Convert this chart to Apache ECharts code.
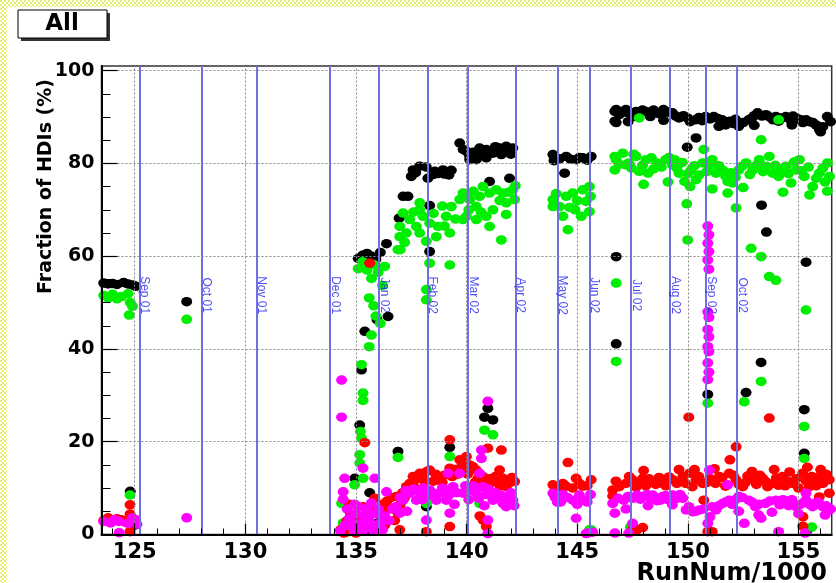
<!DOCTYPE html>
<html>
<head>
<meta charset="utf-8">
<script src="https://cdn.jsdelivr.net/npm/echarts@6/dist/echarts.min.js"></script>
<style>
html, body { margin: 0; padding: 0; background: #fff; }
#main { width: 836px; height: 583px; }
</style>
</head>
<body>
<div id="main"></div>
<script>
// tick values
const xMajor = [125, 130, 135, 140, 145, 150, 155];
const xMinor = [124, 126, 127, 128, 129, 131, 132, 133, 134, 136, 137, 138, 139, 141, 142, 143, 144, 146, 147, 148, 149, 151, 152, 153, 154, 156];
const yMajor = [0, 20, 40, 60, 80, 100];
const yMinor = [5, 10, 15, 25, 30, 35, 45, 50, 55, 65, 70, 75, 85, 90, 95];

// month markers (run number / 1000)
const monthNames = ['Sep 01', 'Oct 01', 'Nov 01', 'Dec 01', 'Jan 02', 'Feb 02', 'Mar 02', 'Apr 02', 'May 02', 'Jun 02', 'Jul 02', 'Aug 02', 'Sep 02', 'Oct 02'];
const monthRuns = [125.21, 128.02, 130.51, 133.82, 136.04, 138.23, 140.06, 142.21, 144.12, 145.55, 147.44, 149.2, 150.82, 152.22];

// [run/1000, fraction %]
const blackPts = [
  [123.6,54.2],[123.8,54.0],[124.0,54.1],[124.2,53.9],[124.5,54.3],[124.7,54.0],[124.9,53.8],[125.05,53.5],[124.8,9.3],[124.3,3.0],[125.0,2.0],[127.35,50.2],
  [135.1,59.5],[135.3,60.2],[135.5,60.6],[135.7,60.0],[135.9,59.3],[136.1,60.8],[136.38,62.7],[135.4,43.8],[135.95,46.3],[136.45,47.0],[135.25,35.5],[135.17,23.6],[134.95,12.1],[135.62,9.0],[135.0,2.0],[135.5,1.0],[136.0,2.5],
  [136.95,68.2],[137.13,72.9],[137.35,72.9],[137.5,77.2],[137.58,78.6],[137.7,78.0],[137.88,79.4],[138.18,79.2],[138.56,78.3],[138.7,77.8],[138.93,78.6],[139.0,77.7],[139.2,77.5],[139.31,78.5],[138.25,76.8],[138.48,77.6],[138.33,70.9],[138.33,61.0],[136.9,17.9],[139.24,18.8],[138.18,6.0],
  [139.69,84.4],[139.84,83.0],[140.0,82.6],[140.14,81.5],[140.3,82.4],[140.59,83.3],[140.7,81.9],[140.89,83.0],[141.19,82.2],[141.3,83.6],[141.49,83.3],[141.65,82.5],[141.79,83.7],[142.0,82.0],[142.09,83.3],[140.89,81.2],[140.14,80.8],[141.57,81.9],[140.44,80.8],[141.04,76.1],[141.94,76.8],[140.96,27.2],[140.81,25.3],[141.19,24.7],
  [143.9,81.9],[143.95,80.6],[144.2,81.0],[144.5,81.5],[144.7,80.9],[144.95,80.8],[145.1,81.3],[145.25,81.2],[145.45,80.7],[145.63,81.5],[144.43,77.9],
  [146.76,91.6],[146.76,88.8],[146.7,91.2],[146.7,89.1],[146.9,90.5],[147.05,91.0],[147.2,91.6],[147.3,89.0],[147.35,90.8],[147.5,90.1],[147.66,91.2],[147.8,90.6],[147.95,91.5],[148.11,91.2],[148.3,90.1],[148.45,91.5],[148.57,90.9],[148.75,90.6],[148.9,91.6],[148.9,89.3],[149.0,91.2],[149.15,91.0],[149.3,90.9],[149.45,90.2],[149.6,89.8],[149.8,90.3],[149.98,89.8],[150.1,89.0],[150.34,89.4],[150.5,89.9],[150.65,89.2],[150.8,90.1],[151.0,89.6],[151.17,90.1],[151.35,89.7],[151.4,88.0],[151.55,89.4],[151.7,88.3],[151.9,89.1],[152.05,88.6],[152.15,89.5],[152.3,88.0],[152.5,88.8],[152.75,89.4],[152.9,89.8],[153.0,90.3],[153.0,88.2],[153.15,90.9],[153.35,90.2],[153.53,90.5],[153.7,90.0],[153.85,89.4],[153.98,90.1],[154.1,89.1],[154.25,89.8],[154.43,90.1],[154.6,89.6],[154.7,88.3],[154.75,90.2],[154.9,89.8],[155.1,89.4],[155.2,88.8],[155.34,89.4],[155.5,89.0],[155.65,88.8],[155.79,88.3],[155.94,87.3],[156.0,86.8],[156.1,87.9],[156.3,90.1],[156.45,89.0],
  [150.37,85.5],[149.97,83.5],[153.33,71.0],[153.55,65.2],[146.76,59.9],[155.34,58.7],[146.76,41.1],[153.31,37.1],[150.9,30.2],[152.63,30.6],[155.26,26.9],[155.26,17.5],[150.95,0.8],[155.4,1.0]
];

const greenPts = [
  [123.6,51.5],[123.8,51.0],[124.0,51.8],[124.2,50.8],[124.4,51.3],[124.7,51.9],[124.8,50.0],[124.9,49.2],[124.75,47.3],[124.79,8.5],[127.35,46.4],
  [135.1,57.3],[135.3,58.8],[135.5,57.0],[135.7,55.2],[135.8,58.2],[136.0,56.5],[136.2,53.7],[136.3,57.8],[135.6,51.0],[135.8,49.3],[135.9,47.1],[136.1,45.5],[135.7,43.0],[135.6,40.5],[135.25,36.6],[135.32,30.5],[135.32,28.9],[135.2,22.2],[135.25,20.8],[135.17,17.2],[135.17,15.4],[135.32,12.1],[134.94,10.7],[134.35,6.7],[134.42,2.5],[134.8,4.0],[135.3,2.0],[134.6,0.5],
  [137.0,61.4],[137.88,71.5],[137.13,69.3],[137.43,67.9],[136.98,66.4],[136.98,64.2],[136.9,61.4],[137.2,63.0],[137.6,69.5],[137.73,66.4],[138.03,68.6],[138.33,67.1],[138.5,69.2],[138.71,66.4],[138.9,70.8],[139.0,66.5],[139.08,68.6],[139.31,70.7],[139.5,68.0],[139.24,65.0],[138.63,64.2],[137.88,65.0],[138.18,63.2],[137.28,65.0],[137.88,70.0],[139.69,72.2],[139.84,67.9],[138.33,58.5],[139.24,58.1],[138.18,52.8],[138.18,50.6],[136.9,16.6],[139.24,16.8],[138.18,6.7],
  [139.84,73.6],[140.1,70.0],[140.14,72.2],[140.3,74.0],[140.44,70.7],[140.65,69.5],[140.74,75.0],[141.04,73.6],[141.34,74.3],[141.5,72.0],[141.64,73.6],[141.9,73.8],[142.09,74.3],[142.17,72.2],[142.2,75.2],[140.44,67.9],[140.89,68.6],[141.19,70.0],[141.79,71.5],[139.99,68.6],[141.04,66.4],[141.57,63.5],[140.59,72.9],[141.79,69.0],[140.81,22.5],[141.19,21.5],[140.59,6.7],
  [143.9,72.2],[144.05,73.5],[144.2,70.7],[144.5,72.9],[144.65,70.5],[144.8,73.6],[144.9,70.0],[145.0,72.0],[145.25,74.3],[145.4,71.8],[145.55,75.0],[145.6,72.9],[144.35,68.6],[144.58,65.7],[145.18,68.6],[145.55,69.6],[143.9,70.7],[145.55,1.0],[145.63,1.0],
  [146.76,80.8],[146.7,81.5],[146.7,78.6],[146.9,79.8],[147.06,82.2],[147.2,79.7],[147.33,80.1],[147.45,79.0],[147.55,82.0],[147.66,81.5],[147.8,78.3],[147.95,79.6],[148.0,75.5],[148.11,80.8],[148.2,77.9],[148.35,81.2],[148.45,78.8],[148.6,80.1],[148.8,79.2],[149.0,80.8],[149.1,76.0],[149.15,81.3],[149.3,79.7],[149.4,80.8],[149.5,79.0],[149.6,77.9],[149.75,80.2],[149.85,76.1],[150.0,77.8],[150.1,75.0],[150.15,78.6],[150.3,79.5],[150.37,76.5],[150.5,77.5],[150.67,80.1],[150.85,78.2],[150.97,79.4],[151.1,80.8],[151.1,74.5],[151.27,77.9],[151.4,79.5],[151.57,78.6],[151.7,77.3],[151.8,76.1],[151.95,78.0],[152.02,75.8],[152.15,77.0],[152.3,78.6],[152.45,79.4],[152.5,74.8],[152.63,80.1],[152.8,77.6],[152.93,78.6],[153.1,79.6],[153.23,80.8],[153.4,78.2],[153.53,79.4],[153.68,81.5],[153.83,77.9],[153.95,79.6],[154.1,77.2],[154.25,78.5],[154.3,73.8],[154.43,79.4],[154.55,77.8],[154.66,75.8],[154.8,80.3],[154.9,78.6],[155.04,80.8],[155.15,78.4],[155.26,77.2],[155.45,79.2],[155.5,73.2],[155.64,75.0],[155.8,76.8],[155.94,77.9],[156.1,79.0],[156.2,76.0],[156.3,74.0],[156.31,80.1],[156.4,77.2],
  [150.72,83.0],[147.8,89.8],[154.1,89.4],[153.31,85.1],[149.95,71.3],[152.18,70.4],[151.8,73.6],[152.86,61.7],[153.31,59.9],[153.68,55.6],[153.98,54.8],[149.99,63.5],[146.76,54.2],[155.34,48.4],[146.76,37.3],[153.31,33.0],[150.9,28.3],[152.55,28.6],[155.26,23.3],[155.26,16.4],[147.4,1.6],[155.6,1.6]
];

const redPts = [
  [123.6,3.0],[123.8,3.6],[124.0,2.8],[124.2,3.4],[124.4,3.2],[124.6,2.6],[124.79,6.4],[124.79,4.4],[124.79,0.6],[125.0,3.0],
  [135.62,58.5],[135.4,19.8],[134.3,1.0],[134.45,0.3],[134.6,3.0],[134.7,6.5],[134.75,4.5],[134.9,1.5],[135.1,4.0],[135.25,1.0],[135.32,6.0],[135.5,2.5],[135.7,5.0],[135.85,7.8],[136.07,4.9],[136.2,6.5],[136.3,2.0],[136.4,7.2],[136.5,5.5],[136.6,8.0],[136.75,3.0],[135.0,0.3],[135.9,0.8],
  [136.83,8.2],[136.9,4.6],[136.98,1.0],[137.0,6.5],[137.1,9.0],[137.2,8.0],[137.28,10.3],[137.43,11.0],[137.58,12.5],[137.6,10.5],[137.73,12.0],[137.88,13.2],[138.03,12.3],[138.1,11.5],[138.2,13.6],[138.33,13.9],[138.5,11.5],[138.6,13.0],[138.78,12.5],[138.9,11.2],[139.0,12.8],[139.24,14.3],[139.35,12.5],[139.5,14.0],[139.6,13.0],[139.69,16.1],[139.8,15.0],[139.84,13.5],[139.99,16.8],[140.05,13.0],[140.29,14.6],[139.24,20.4],[138.18,0.6],[139.24,1.7],
  [140.96,18.6],[141.57,18.2],[141.49,13.9],[141.64,12.1],[140.14,15.0],[140.44,13.9],[140.5,12.0],[140.74,12.5],[140.8,11.0],[141.04,12.0],[141.19,11.3],[141.3,12.5],[141.5,10.5],[141.75,11.8],[141.79,10.3],[141.9,11.0],[142.05,12.3],[142.17,11.4],[140.37,11.2],[140.6,4.0],[140.74,3.1],[140.89,1.7],
  [143.9,10.7],[144.05,10.0],[144.2,9.6],[144.35,11.0],[144.5,10.4],[144.58,15.5],[144.8,10.0],[144.95,12.1],[145.1,11.0],[145.25,10.4],[145.45,10.5],[145.63,11.8],
  [146.6,9.6],[146.6,8.3],[146.75,11.5],[146.9,10.3],[147.2,11.0],[147.35,12.5],[147.5,11.8],[147.66,10.2],[147.8,11.2],[147.96,12.1],[148.0,13.8],[148.1,10.5],[148.25,12.0],[148.41,11.4],[148.55,10.8],[148.7,12.3],[148.86,11.0],[149.0,10.5],[149.15,12.4],[149.32,11.8],[149.5,11.0],[149.6,14.0],[149.77,12.5],[149.9,11.0],[150.07,13.2],[150.2,10.3],[150.3,14.0],[150.37,11.8],[150.5,12.5],[150.67,11.0],[150.85,11.2],[151.0,12.0],[151.2,14.2],[151.25,11.0],[151.42,12.5],[151.55,12.3],[151.7,10.4],[151.87,13.2],[152.05,12.8],[152.18,11.8],[152.3,10.8],[152.48,10.3],[152.6,11.2],[152.7,12.6],[152.9,13.6],[152.93,11.8],[153.1,10.8],[153.25,12.8],[153.38,12.1],[153.5,11.5],[153.6,10.3],[153.83,11.0],[153.9,14.0],[154.0,12.2],[154.1,10.6],[154.28,12.5],[154.4,10.5],[154.5,11.5],[154.6,13.5],[154.73,11.0],[154.9,12.0],[155.0,10.0],[155.19,13.2],[155.35,11.5],[155.4,14.5],[155.49,10.3],[155.6,12.5],[155.7,11.8],[155.8,10.5],[155.94,12.5],[155.94,8.1],[156.0,14.0],[156.1,11.0],[156.25,13.0],[156.39,11.8],[156.39,8.9],
  [150.04,25.3],[153.68,25.1],[152.18,18.9],[151.9,16.1],[150.72,7.4],[151.1,0.6],[150.9,0.6],[147.5,1.0],[147.7,1.0],[147.96,1.5],[155.2,3.8],[155.2,1.8]
];

const magentaPts = [
  [123.6,2.8],[123.9,2.5],[124.1,3.2],[124.3,2.8],[124.3,0.4],[124.7,2.4],[124.9,3.6],[125.05,3.2],[125.1,2.2],[127.35,3.6],
  [134.35,33.3],[134.35,25.3],[135.32,14.3],[134.49,12.1],[135.85,12.1],[134.42,9.2],[134.42,7.6],[136.38,9.2],[134.3,0.8],[134.5,2.0],[134.7,3.5],[134.8,2.5],[134.9,1.0],[134.95,6.5],[135.0,4.5],[135.05,1.5],[135.2,2.5],[135.3,0.8],[135.4,4.0],[135.45,5.5],[135.5,1.5],[135.6,3.0],[135.65,4.5],[135.75,2.0],[135.8,0.7],[135.9,4.5],[136.0,5.5],[136.1,2.5],[136.2,1.0],[136.3,4.0],[136.5,3.0],[136.65,5.5],[134.6,5.5],[135.1,6.0],[135.7,6.8],
  [136.8,6.0],[136.98,4.6],[137.0,8.0],[137.13,7.4],[137.25,9.5],[137.3,5.0],[137.43,8.9],[137.6,9.8],[137.73,7.4],[137.88,8.9],[138.0,7.5],[138.03,10.0],[138.2,8.2],[138.33,9.6],[138.45,9.0],[138.63,7.4],[138.78,8.9],[138.9,10.0],[139.0,9.8],[139.08,7.4],[139.16,13.2],[139.2,8.5],[139.39,10.3],[139.45,6.5],[139.55,9.0],[139.69,13.2],[139.84,8.9],[139.95,10.5],[138.18,3.1],[139.24,4.6],
  [140.96,28.7],[140.67,18.2],[140.67,16.4],[140.1,7.5],[140.2,9.5],[140.3,10.5],[140.44,8.9],[140.55,7.8],[140.59,13.2],[140.74,10.3],[140.8,6.2],[140.89,8.6],[141.0,9.8],[141.19,7.4],[141.3,9.0],[141.4,8.0],[141.55,8.5],[141.64,6.7],[141.79,6.0],[141.9,7.8],[142.0,9.0],[142.09,7.4],[142.15,6.2],[140.96,3.1],[140.96,0.2],
  [143.9,8.9],[144.0,8.0],[144.1,7.0],[144.25,7.0],[144.35,8.6],[144.55,8.0],[144.8,7.4],[145.0,6.5],[145.1,8.5],[145.25,7.4],[145.45,7.0],[145.6,8.6],[144.95,3.5],[145.4,0.2],[145.7,0.5],
  [146.6,6.7],[146.7,4.6],[146.85,7.8],[147.1,7.4],[147.2,5.5],[147.3,8.2],[147.5,7.8],[147.7,8.5],[147.85,7.6],[147.96,8.2],[148.15,8.6],[148.2,6.2],[148.3,7.8],[148.41,8.5],[148.6,7.3],[148.75,7.4],[148.86,8.2],[149.0,8.4],[149.1,7.5],[149.3,6.4],[149.32,8.5],[149.5,7.8],[149.65,8.6],[149.77,7.8],[149.92,5.3],[150.05,6.0],[150.22,4.9],[150.35,5.0],[150.52,5.3],[150.7,5.5],[151.0,3.8],[151.1,6.0],[151.27,5.3],[151.4,6.2],[151.57,6.7],[151.7,7.0],[151.87,7.4],[152.0,6.5],[152.15,7.5],[152.3,8.2],[152.3,5.0],[152.45,8.0],[152.75,7.4],[152.9,7.0],[153.05,6.0],[153.2,6.5],[153.5,6.7],[153.7,7.2],[153.8,4.8],[153.98,7.4],[154.15,6.4],[154.3,7.5],[154.43,6.7],[154.55,6.2],[154.7,7.5],[154.9,6.0],[155.0,4.5],[155.05,6.4],[155.2,6.8],[155.34,7.4],[155.5,6.5],[155.64,6.0],[155.75,6.8],[155.9,7.0],[156.09,6.0],[156.2,4.2],[156.25,6.2],[156.39,5.3],[156.45,5.5],
  [153.31,3.5],[151.8,10.7],[155.34,8.9],[150.97,13.9],
  [150.9,66.5],[150.95,64.6],[150.9,62.8],[150.95,61.0],[150.9,59.2],[150.95,57.2],[150.9,48.0],[150.95,46.8],[150.9,44.2],[150.95,42.6],[150.9,40.5],[150.95,39.4],[150.9,37.0],[150.95,35.0],[150.9,33.4],
  [150.9,2.4],[152.55,2.4],[153.2,4.2],[154.1,0.6],[155.3,0.3],[145.48,0.3],[146.7,0.3],[147.33,0.3],[147.5,2.4]
];

const chart = echarts.init(document.getElementById('main'));

// checkered yellow strip like the original canvas border
const pat = document.createElement('canvas');
pat.width = 4; pat.height = 4;
const pctx = pat.getContext('2d');
pctx.fillStyle = '#ffffff';
pctx.fillRect(0, 0, 4, 4);
pctx.fillStyle = '#e4ee6c';
pctx.fillRect(0, 0, 2, 2);
pctx.fillRect(2, 2, 2, 2);
const checker = { image: pat, repeat: 'repeat' };

const boldFont = 'DejaVu Sans';

function dots(data, color) {
  return {
    type: 'scatter',
    data: data,
    symbolSize: [11, 9.5],
    itemStyle: { color: color, opacity: 1 },
    z: 2
  };
}

chart.setOption({
  animation: false,
  backgroundColor: '#fff',
  grid: {
    left: 101.5, right: 4.3, top: 66, bottom: 48.5,
    show: true, borderColor: '#333', borderWidth: 1.5, backgroundColor: '#fff'
  },
  xAxis: [{
    type: 'value', min: 123.5, max: 156.5, z: 10,
    axisLine: { onZero: false, lineStyle: { color: '#000', width: 2 } },
    axisTick: { inside: true, length: 11, customValues: xMajor, lineStyle: { color: '#000', width: 1.2 } },
    axisLabel: { customValues: xMajor, color: '#000', fontFamily: boldFont, fontWeight: 'bold', fontSize: 21, margin: 8 },
    splitLine: { show: false }
  }, {
    type: 'value', min: 123.5, max: 156.5, position: 'bottom', z: 10,
    axisLine: { show: false },
    axisTick: { inside: true, length: 6, customValues: xMinor, lineStyle: { color: '#000', width: 1 } },
    axisLabel: { show: false },
    splitLine: { show: false }
  }],
  yAxis: [{
    type: 'value', min: 0, max: 101, z: 10,
    axisLine: { show: true, onZero: false, lineStyle: { color: '#000', width: 2 } },
    axisTick: { show: true, inside: true, length: 16, customValues: yMajor, lineStyle: { color: '#000', width: 1.2 } },
    axisLabel: { customValues: yMajor, color: '#000', fontFamily: boldFont, fontWeight: 'bold', fontSize: 19, margin: 7 },
    splitLine: { show: false }
  }, {
    type: 'value', min: 0, max: 101, position: 'left', z: 10,
    axisLine: { show: false },
    axisTick: { show: true, inside: true, length: 9, customValues: yMinor, lineStyle: { color: '#000', width: 1 } },
    axisLabel: { show: false },
    splitLine: { show: false }
  }],
  series: [
    dots(blackPts, '#000000'),
    dots(greenPts, '#00ee00'),
    dots(redPts, '#ff0000'),
    dots(magentaPts, '#ff00ff'),
    {
      // dotted grid + month lines, drawn over the markers like the original
      type: 'scatter', data: [], z: 8, silent: true,
      markLine: {
        silent: true, symbol: ['none', 'none'], animation: false,
        label: { show: false },
        data: xMajor.map(v => ({ xAxis: v, lineStyle: { color: '#888', width: 1, type: [2, 2] } }))
          .concat(yMajor.slice(1).map(v => ({ yAxis: v, lineStyle: { color: '#888', width: 1, type: [2, 2] } })))
          .concat(monthRuns.map(v => ({ xAxis: v, lineStyle: { color: '#7070e4', width: 2, type: 'solid' } })))
      }
    },
    {
      type: 'scatter', z: 9, silent: true,
      symbolSize: 1, itemStyle: { color: 'rgba(0,0,0,0)' },
      data: monthRuns.map((r, i) => ({ value: [r, 51.6], name: monthNames[i] })),
      label: {
        show: true, formatter: '{b}', position: 'inside', rotate: -90, offset: [0, -5],
        color: '#2222ee', fontFamily: 'Liberation Sans', fontSize: 12
      }
    }
  ],
  graphic: [
    { type: 'rect', shape: { x: 0, y: 0, width: 836, height: 7 }, style: { fill: checker }, z: 100 },
    { type: 'rect', shape: { x: 0, y: 0, width: 7, height: 583 }, style: { fill: checker }, z: 100 },
    { type: 'rect', shape: { x: 21, y: 13, width: 89, height: 28 }, style: { fill: '#333' }, z: 100 },
    { type: 'rect', shape: { x: 18, y: 10, width: 89, height: 28 }, style: { fill: '#fff', stroke: '#000', lineWidth: 1 }, z: 101 },
    { type: 'text', x: 62, y: 24, z: 102, style: { text: 'All', font: 'bold 23px "DejaVu Sans"', fill: '#000', align: 'center', verticalAlign: 'middle' } },
    { type: 'text', x: 46, y: 186.5, rotation: Math.PI / 2, z: 102, style: { text: 'Fraction of HDIs (%)', font: 'bold 19px "DejaVu Sans"', fill: '#000', align: 'center', verticalAlign: 'middle' } },
    { type: 'text', x: 827, y: 574, z: 102, style: { text: 'RunNum/1000', font: 'bold 24px "DejaVu Sans"', fill: '#000', align: 'right', verticalAlign: 'middle' } }
  ]
});
</script>
</body>
</html>
